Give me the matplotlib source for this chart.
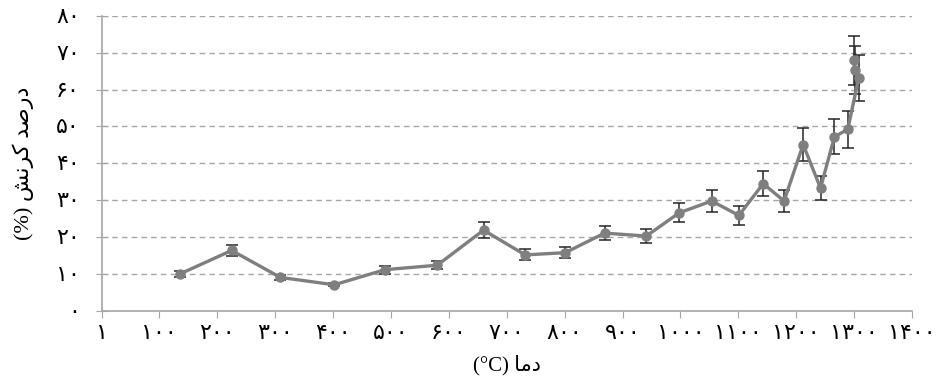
import matplotlib
matplotlib.use("Agg")
import matplotlib.pyplot as plt

# Temperature (deg C), strain percent, error half-widths
temperature = [135, 225, 309, 402, 490, 580, 660, 732, 801, 869, 941, 998, 1054, 1101,
               1143, 1179, 1212, 1242, 1266, 1289, 1308, 1301, 1300]
strain = [10.0, 16.4, 9.1, 7.1, 11.2, 12.4, 21.9, 15.2, 15.8, 21.1, 20.3, 26.6, 29.8, 25.9,
          34.5, 29.8, 45.1, 33.3, 47.2, 49.2, 63.1, 65.2, 67.9]
strain_err = [0.8, 1.6, 0.6, 0.4, 1.1, 1.1, 2.2, 1.5, 1.5, 2.0, 2.0, 2.6, 2.9, 2.6,
              3.4, 2.9, 4.5, 3.3, 4.7, 5.0, 6.3, 6.5, 6.7]

x_ticks = [1, 100, 200, 300, 400, 500, 600, 700, 800, 900, 1000, 1100, 1200, 1300, 1400]
y_ticks = [0, 10, 20, 30, 40, 50, 60, 70, 80]

PERSIAN_DIGITS = str.maketrans("0123456789", "\u06f0\u06f1\u06f2\u06f3\u06f4\u06f5\u06f6\u06f7\u06f8\u06f9")


def fa(n):
    return str(n).translate(PERSIAN_DIGITS)


# Arabic-script labels written in visual order with presentation forms
X_LABEL = "(\u00b0C) \ufe8e\ufee3\ufea9"                                 # دما (°C)
Y_LABEL = "(%) \ufeb6\ufee7\ufeae\ufb90 \ufeaa\ufebb\ufead\ufea9"        # درصد کرنش (%)

plt.rcParams["font.family"] = ["Liberation Serif", "DejaVu Sans"]

fig = plt.figure(figsize=(9.44, 3.82), dpi=100)
ax = fig.add_axes([102 / 944, 1 - 311 / 382, 810 / 944, (311 - 15.7) / 382])

ax.errorbar(temperature, strain, yerr=strain_err, color="#7f7f7f", linewidth=2.4,
            marker="o", markersize=6.5, ecolor="#262626", elinewidth=1.1,
            capsize=4, capthick=1.1, zorder=3)

ax.set_xlim(1, 1400)
ax.set_ylim(0, 80)
ax.set_xticks(x_ticks)
ax.set_xticklabels([fa(v) for v in x_ticks], fontsize=16)
ax.set_yticks(y_ticks)
ax.set_yticklabels([fa(v) for v in y_ticks], fontsize=16)

ax.yaxis.grid(True, linestyle=(0, (4, 3)), color="#a6a6a6", linewidth=1.0)
ax.set_axisbelow(True)
for side in ("top", "right"):
    ax.spines[side].set_visible(False)
for side in ("left", "bottom"):
    ax.spines[side].set_color("#a6a6a6")
    ax.spines[side].set_linewidth(1.2)
ax.tick_params(axis="y", direction="inout", length=8, color="#a6a6a6", pad=12)
ax.tick_params(axis="x", direction="out", length=5, color="#a6a6a6", pad=5)

ax.set_xlabel(X_LABEL, fontsize=15, labelpad=8)
ax.set_ylabel(Y_LABEL, fontsize=16, labelpad=16)

fig.savefig("out.png", dpi=100)
